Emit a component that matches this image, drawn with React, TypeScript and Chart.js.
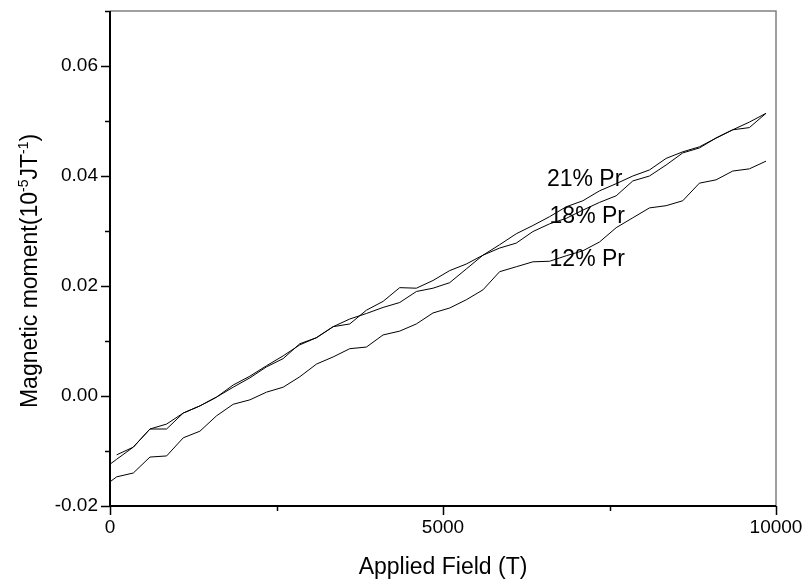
import React, { useEffect, useRef } from 'react';
import { Chart, registerables } from 'chart.js';

Chart.register(...registerables);

// Applied field (T) sample positions
const fieldX = [0, 100, 350, 600, 850, 1100, 1350, 1600, 1850, 2100, 2350, 2600, 2850, 3100, 3350, 3600, 3850, 4100, 4350, 4600, 4850, 5100, 5350, 5600, 5850, 6100, 6350, 6600, 6850, 7100, 7350, 7600, 7850, 8100, 8350, 8600, 8850, 9100, 9350, 9600, 9850];

// Magnetic moment (10^-5 J/T)
const pr21 = [null, -0.0107, -0.0093, -0.0060, -0.0051, -0.0031, -0.0018, -0.0002, 0.0020, 0.0036, 0.0055, 0.0073, 0.0093, 0.0106, 0.0126, 0.0140, 0.0150, 0.0161, 0.0170, 0.0190, 0.0196, 0.0206, 0.0231, 0.0256, 0.0275, 0.0295, 0.0310, 0.0326, 0.0344, 0.0355, 0.0373, 0.0386, 0.0400, 0.0411, 0.0432, 0.0444, 0.0453, 0.0469, 0.0484, 0.0498, 0.0514];
const pr18 = [-0.0124, -0.0115, -0.0093, -0.0060, -0.0060, -0.0031, -0.0018, -0.0002, 0.0016, 0.0033, 0.0053, 0.0068, 0.0095, 0.0106, 0.0126, 0.0131, 0.0156, 0.0172, 0.0197, 0.0196, 0.0210, 0.0228, 0.0240, 0.0256, 0.0269, 0.0278, 0.0299, 0.0313, 0.0323, 0.0338, 0.0352, 0.0364, 0.0391, 0.0400, 0.0420, 0.0442, 0.0451, 0.0469, 0.0484, 0.0488, 0.0514];
const pr12 = [-0.0156, -0.0147, -0.0140, -0.0111, -0.0109, -0.0076, -0.0064, -0.0036, -0.0015, -0.0007, 0.0007, 0.0016, 0.0035, 0.0058, 0.0071, 0.0086, 0.0089, 0.0111, 0.0118, 0.0131, 0.0151, 0.0160, 0.0175, 0.0193, 0.0226, 0.0235, 0.0244, 0.0245, 0.0255, 0.0264, 0.0280, 0.0306, 0.0324, 0.0342, 0.0346, 0.0355, 0.0387, 0.0393, 0.0409, 0.0413, 0.0427];

// Curve labels (text, anchor in data coordinates)
const curveLabels = ['21% Pr', '18% Pr', '12% Pr'];
const curveLabelX = [6560, 6600, 6600];
const curveLabelY = [0.0393, 0.03255, 0.0247];

// Axis ticks
const xTickValues = [0, 5000, 10000];
const xTickLabels = ['0', '5000', '10000'];
const xMinorValues = [2500, 7500];
const yTickValues = [-0.02, 0, 0.02, 0.04, 0.06];
const yTickLabels = ['-0.02', '0.00', '0.02', '0.04', '0.06'];
const yMinorValues = [-0.01, 0.01, 0.03, 0.05, 0.07];

const xTitle = 'Applied Field (T)';
const yTitleParts: [string, boolean][] = [
  ['Magnetic moment(10', false],
  ['-5', true],
  ['JT', false],
  ['-1', true],
  [')', false],
];

const FONT = '"Liberation Sans", Arial, Helvetica, sans-serif';

const framePlugin = {
  id: 'frameAndText',
  afterDraw(chart: any) {
    const { ctx, chartArea: a, scales } = chart;
    const xs = scales.x;
    const ys = scales.y;
    ctx.save();
    // gray top and right borders
    ctx.strokeStyle = '#808080';
    ctx.lineWidth = 1.5;
    ctx.beginPath();
    ctx.moveTo(a.left, a.top);
    ctx.lineTo(a.right, a.top);
    ctx.lineTo(a.right, a.bottom);
    ctx.stroke();
    // black left and bottom axes
    ctx.strokeStyle = '#000';
    ctx.lineWidth = 2;
    ctx.beginPath();
    ctx.moveTo(a.left, a.top);
    ctx.lineTo(a.left, a.bottom);
    ctx.lineTo(a.right, a.bottom);
    ctx.stroke();
    // ticks
    ctx.lineWidth = 1.5;
    ctx.beginPath();
    yTickValues.forEach((v) => {
      const py = Math.round(ys.getPixelForValue(v)) + 0.5;
      ctx.moveTo(a.left - 9, py);
      ctx.lineTo(a.left, py);
    });
    yMinorValues.forEach((v) => {
      const py = Math.round(ys.getPixelForValue(v)) + 0.5;
      ctx.moveTo(a.left - 5, py);
      ctx.lineTo(a.left, py);
    });
    xTickValues.forEach((v) => {
      const px = Math.round(xs.getPixelForValue(v)) + 0.5;
      ctx.moveTo(px, a.bottom);
      ctx.lineTo(px, a.bottom + 9);
    });
    xMinorValues.forEach((v) => {
      const px = Math.round(xs.getPixelForValue(v)) + 0.5;
      ctx.moveTo(px, a.bottom);
      ctx.lineTo(px, a.bottom + 5);
    });
    ctx.stroke();

    // curve labels
    ctx.fillStyle = '#000';
    ctx.font = `23px ${FONT}`;
    ctx.textAlign = 'left';
    ctx.textBaseline = 'middle';
    curveLabels.forEach((t, i) => {
      ctx.fillText(t, xs.getPixelForValue(curveLabelX[i]), ys.getPixelForValue(curveLabelY[i]));
    });

    // x title
    ctx.textAlign = 'center';
    ctx.textBaseline = 'alphabetic';
    ctx.font = `23px ${FONT}`;
    ctx.fillText(xTitle, (a.left + a.right) / 2, 574);

    // y title (rotated, with superscripts)
    const big = `23px ${FONT}`;
    const small = `14px ${FONT}`;
    let total = 0;
    yTitleParts.forEach(([t, sup]) => {
      ctx.font = sup ? small : big;
      total += ctx.measureText(t).width;
    });
    ctx.translate(37, 271);
    ctx.rotate(-Math.PI / 2);
    ctx.textAlign = 'left';
    ctx.textBaseline = 'alphabetic';
    let cx = -total / 2;
    yTitleParts.forEach(([t, sup]) => {
      ctx.font = sup ? small : big;
      ctx.fillText(t, cx, sup ? -9 : 0);
      cx += ctx.measureText(t).width;
    });
    ctx.restore();
  },
};

export default function App() {
  const ref = useRef<HTMLCanvasElement>(null);
  useEffect(() => {
    const mk = (vals: (number | null)[]) => fieldX.map((x, i) => ({ x, y: vals[i] }));
    const ds = (vals: (number | null)[]) => ({
      data: mk(vals),
      borderColor: '#000',
      borderWidth: 1,
      pointRadius: 0,
      fill: false,
      tension: 0,
      spanGaps: false,
    });
    const chart = new Chart(ref.current as HTMLCanvasElement, {
      type: 'line',
      data: { datasets: [ds(pr21), ds(pr18), ds(pr12)] as any },
      options: {
        responsive: false,
        animation: false,
        devicePixelRatio: 1,
        events: [],
        layout: { padding: { top: 11, right: 27, left: 0, bottom: 0 } },
        plugins: { legend: { display: false }, tooltip: { enabled: false } },
        scales: {
          x: {
            type: 'linear',
            min: 0,
            max: 10000,
            afterBuildTicks: (s: any) => {
              s.ticks = xTickValues.map((v) => ({ value: v }));
            },
            afterFit: (s: any) => {
              s.height = 74;
              s.paddingLeft = 0;
              s.paddingRight = 0;
            },
            ticks: {
              callback: (_v: any, i: number) => xTickLabels[i],
              font: { family: FONT, size: 19 },
              color: '#000',
              padding: 10,
              maxRotation: 0,
              autoSkip: false,
            },
            grid: { display: false, drawTicks: false, tickLength: 0 },
            border: { display: false },
          },
          y: {
            type: 'linear',
            min: -0.02,
            max: 0.07,
            afterBuildTicks: (s: any) => {
              s.ticks = yTickValues.map((v) => ({ value: v }));
            },
            afterFit: (s: any) => {
              s.width = 110;
              s.paddingTop = 0;
              s.paddingBottom = 0;
            },
            ticks: {
              callback: (_v: any, i: number) => yTickLabels[i],
              font: { family: FONT, size: 19 },
              color: '#000',
              padding: 12,
              autoSkip: false,
            },
            grid: { display: false, drawTicks: false, tickLength: 0 },
            border: { display: false },
          },
        },
      } as any,
      plugins: [framePlugin],
    });
    return () => chart.destroy();
  }, []);
  return (
    <div style={{ position: 'absolute', left: 0, top: 0, width: 803, height: 580, background: '#fff' }}>
      <canvas ref={ref} width={803} height={580} style={{ display: 'block', width: 803, height: 580 }} />
    </div>
  );
}
